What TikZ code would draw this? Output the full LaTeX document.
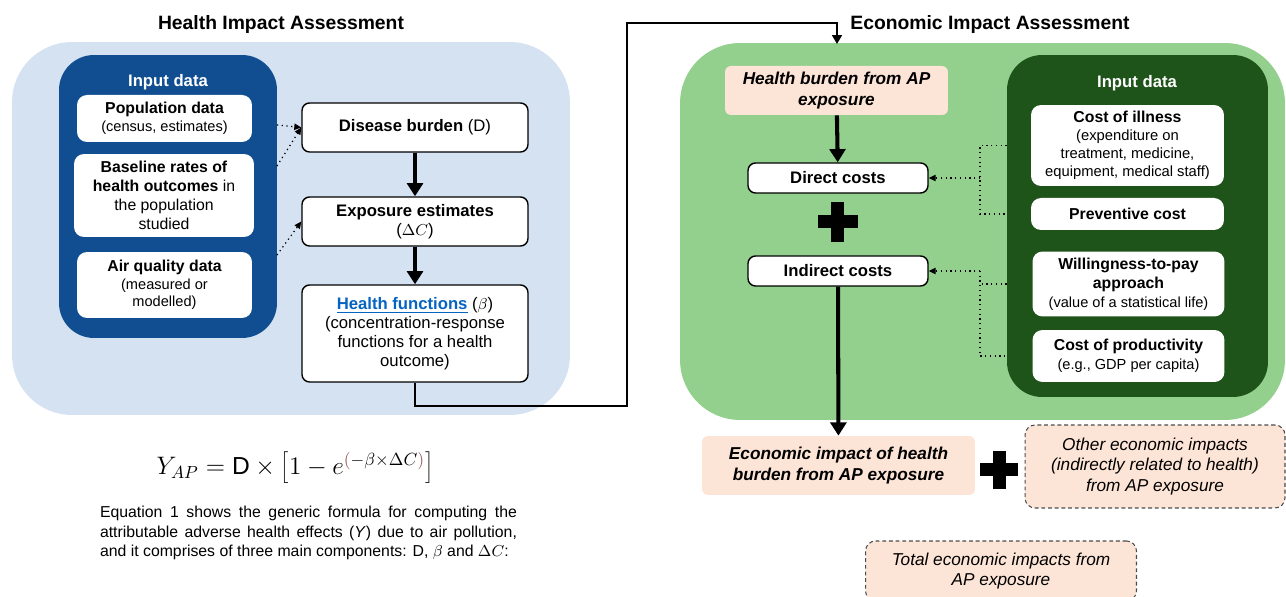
\documentclass[tikz,border=0pt]{standalone}
\usepackage{fontspec}
\setmainfont{Liberation Sans}
\usetikzlibrary{arrows.meta}

\definecolor{lightblue}{RGB}{213,226,241}
\definecolor{darkblue}{RGB}{16,78,145}
\definecolor{lightgreen}{RGB}{147,208,141}
\definecolor{darkgreen}{RGB}{30,83,26}
\definecolor{peach}{RGB}{252,228,214}
\definecolor{linkblue}{RGB}{5,99,193}
\definecolor{exprust}{RGB}{150,80,80}

\tikzstyle{panel}=[rounded corners=1.2cm,inner sep=0pt]
\tikzstyle{inpanel}=[rounded corners=0.7cm,inner sep=0pt]
\tikzstyle{inbox}=[fill=white,rounded corners=0.2cm,align=center,inner sep=0pt]
\tikzstyle{stepbox}=[draw,line width=0.8pt,fill=white,rounded corners=0.15cm,align=center,inner sep=0pt]
\tikzstyle{pinkbox}=[fill=peach,rounded corners=0.12cm,align=center,inner sep=0pt,font=\fontsize{9.8}{11.5}\selectfont\bfseries\itshape]
\tikzstyle{dashbox}=[draw=black!70,dash pattern=on 2.2pt off 1.6pt,line width=0.6pt,fill=peach,rounded corners=0.2cm,align=center,inner sep=0pt,font=\fontsize{9.8}{11.8}\selectfont\itshape]
\tikzstyle{thickarrow}=[-{Triangle[length=7.5pt,width=9pt]},line width=2.3pt]
\tikzstyle{linkarrow}=[-{Triangle[length=5pt,width=5.5pt]},line width=1.2pt]
\tikzstyle{dotarrow}=[-{Triangle[length=4pt,width=3.6pt]},dotted,line width=0.7pt]
\tikzstyle{dotline}=[dotted,line width=0.7pt]
\tikzstyle{plusbar}=[fill=black,inner sep=0pt]

\begin{document}
\begin{tikzpicture}[x=0.02cm,y=-0.02cm]
	\useasboundingbox (0,0) rectangle (1286,597);

	% health impact assessment
	\node[font=\fontsize{11}{13}\selectfont\bfseries] (healthtitle) at (281,25) {Health Impact Assessment};
	\node[panel,fill=lightblue,minimum width=11.16cm,minimum height=7.46cm] (healthpanel) at (291,228.5) {};
	\node[inpanel,fill=darkblue,minimum width=4.36cm,minimum height=5.66cm] (blueinput) at (168,196.5) {};
	\node[text=white,font=\fontsize{9.5}{11}\selectfont\bfseries] (inputlabel1) at (168,82) {Input data};

	\node[inbox,minimum width=3.5cm,minimum height=0.94cm,font=\fontsize{9}{10.5}\selectfont] (popbox) at (164.5,118.5)
		{{\bfseries Population data}\\{\fontsize{8.3}{10}\selectfont(census, estimates)}};
	\node[inbox,minimum width=3.6cm,minimum height=1.66cm,font=\fontsize{9}{10.8}\selectfont] (basebox) at (164,195.5)
		{{\bfseries Baseline rates of}\\{\bfseries health outcomes} in\\the population\\studied};
	\node[inbox,minimum width=3.5cm,minimum height=1.32cm,font=\fontsize{8.3}{10}\selectfont] (airbox) at (164.5,285)
		{{\fontsize{9}{10.5}\selectfont\bfseries Air quality data}\\(measured or\\modelled)};

	\node[stepbox,minimum width=4.52cm,minimum height=0.98cm,font=\fontsize{9.5}{11}\selectfont] (burden) at (415,127.5)
		{{\bfseries Disease burden} (D)};
	\node[stepbox,minimum width=4.52cm,minimum height=0.98cm,font=\fontsize{9.5}{11}\selectfont] (exposure) at (415,221.5)
		{{\bfseries Exposure estimates}\\($\Delta C$)};
	\node[stepbox,minimum width=4.52cm,minimum height=1.94cm,font=\fontsize{9.5}{10.8}\selectfont] (functions) at (415,333.5)
		{{\bfseries\textcolor{linkblue}{\underline{Health functions}}} ($\beta$)\\(concentration-response\\functions for a health\\outcome)};

	\coordinate (popout) at (277,125);
	\coordinate (baseout) at (277,166);
	\coordinate (airout) at (277,255);
	\draw[dotarrow] (popout) -- (burden.west);
	\draw[dotarrow] (baseout) -- (burden.west);
	\draw[dotarrow] (airout) -- (exposure.west);
	\draw[thickarrow] (burden) -- (exposure);
	\draw[thickarrow] (exposure) -- (functions);

	\node[font=\fontsize{14}{17}\selectfont] (formula) at (295,468)
		{$Y_{AP} = \mathrm{D}\times\left[1-e^{\textcolor{exprust}{(}-\beta\times\Delta C\textcolor{exprust}{)}}\right]$};
	\node[text width=8.34cm,align=justify,inner sep=0pt,font=\fontsize{9}{11.1}\selectfont] (eqtext) at (308.5,533)
		{\hyphenpenalty=10000 Equation 1 shows the generic formula for computing the\linebreak attributable adverse health effects (\textit{Y}) due to air pollution,\linebreak and it comprises of three main components: D, $\beta$ and $\Delta C$:\hspace*{\fill}};

	% economic impact assessment
	\node[font=\fontsize{11}{13}\selectfont\bfseries] (ecotitle) at (990,25) {Economic Impact Assessment};
	\node[panel,fill=lightgreen,minimum width=12.1cm,minimum height=7.54cm] (ecopanel) at (982.5,231.5) {};
	\node[inpanel,fill=darkgreen,minimum width=5.22cm,minimum height=6.84cm] (greeninput) at (1137.5,226) {};
	\node[text=white,font=\fontsize{9.5}{11}\selectfont\bfseries] (inputlabel2) at (1137,83) {Input data};

	\node[inbox,minimum width=3.86cm,minimum height=1.62cm,font=\fontsize{8.4}{10.2}\selectfont] (illness) at (1127.5,145.5)
		{{\fontsize{9}{10.5}\selectfont\bfseries Cost of illness}\\(expenditure on\\treatment, medicine,\\equipment, medical staff)};
	\node[inbox,minimum width=3.86cm,minimum height=0.64cm,font=\fontsize{9}{10.5}\selectfont\bfseries] (preventive) at (1127.5,214)
		{Preventive cost};
	\node[inbox,minimum width=3.84cm,minimum height=1.3cm,font=\fontsize{9}{10.8}\selectfont] (wtp) at (1128.5,284)
		{{\bfseries Willingness-to-pay}\\{\bfseries approach}\\{\fontsize{8.3}{10}\selectfont(value of a statistical life)}};
	\node[inbox,minimum width=3.84cm,minimum height=1.04cm,font=\fontsize{9}{10.8}\selectfont] (productivity) at (1128.5,356)
		{{\bfseries Cost of productivity}\\{\fontsize{8.3}{10}\selectfont(e.g., GDP per capita)}};

	\node[pinkbox,minimum width=4.46cm,minimum height=0.98cm] (hburden) at (836.5,90.5)
		{Health burden from AP\\exposure};
	\node[stepbox,minimum width=3.6cm,minimum height=0.6cm,font=\fontsize{9.5}{11}\selectfont\bfseries] (direct) at (838,178) {Direct costs};
	\node[stepbox,minimum width=3.6cm,minimum height=0.6cm,font=\fontsize{9.5}{11}\selectfont\bfseries] (indirect) at (838,271) {Indirect costs};
	\node[plusbar,minimum width=0.26cm,minimum height=0.8cm] (plusav) at (837.5,222) {};
	\node[plusbar,minimum width=0.8cm,minimum height=0.26cm] (plusah) at (837.5,222) {};

	\node[pinkbox,minimum width=5.46cm,minimum height=1.18cm] (ecoimpact) at (838.5,465.5)
		{Economic impact of health\\burden from AP exposure};
	\node[plusbar,minimum width=0.26cm,minimum height=0.76cm] (plusbv) at (999,470) {};
	\node[plusbar,minimum width=0.76cm,minimum height=0.26cm] (plusbh) at (999,470) {};
	\node[dashbox,minimum width=5.2cm,minimum height=1.66cm] (otherimp) at (1155,466.5)
		{Other economic impacts\\(indirectly related to health)\\from AP exposure};
	\node[dashbox,minimum width=5.42cm,minimum height=1.2cm] (total) at (1001,571)
		{Total economic impacts from\\AP exposure};

	\draw[thickarrow] (hburden) -- (direct);
	\draw[thickarrow] (indirect) -- (ecoimpact);

	\coordinate (brack) at (980,0);
	\draw[dotline] (greeninput.west |- illness) -| (brack |- preventive) -- (greeninput.west |- preventive);
	\draw[dotarrow] (brack |- direct) -- (direct.east);
	\draw[dotline] (greeninput.west |- wtp) -- (brack |- wtp);
	\draw[dotline] (brack |- indirect) |- (greeninput.west |- productivity);
	\draw[dotarrow] (brack |- indirect) -- (indirect.east);

	% link between the two parts
	\coordinate (bend1) at (627,406);
	\coordinate (bend2) at (627,23);
	\coordinate (ecotop) at (837,44);
	\draw[linkarrow] (functions.south) |- (bend1) -- (bend2) -| (ecotop);
\end{tikzpicture}
\end{document}
